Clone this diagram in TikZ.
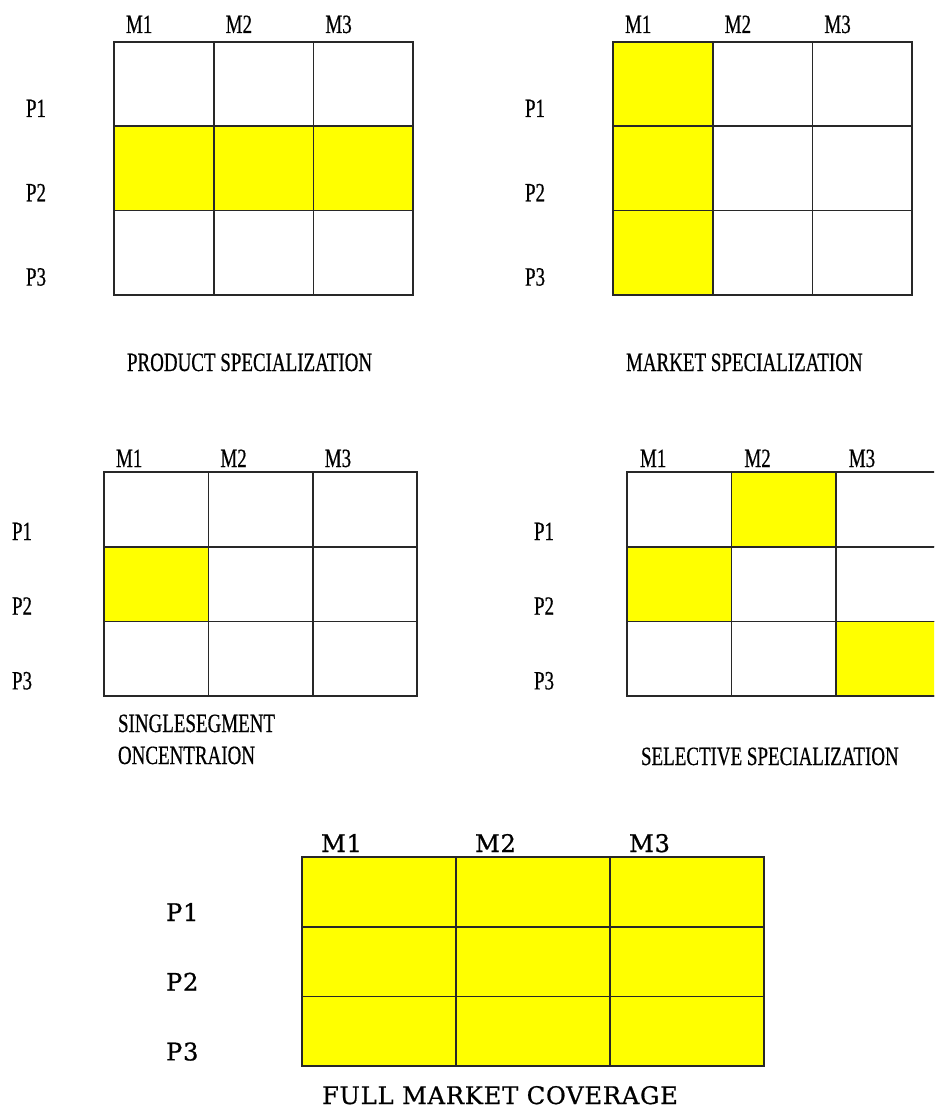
\documentclass[tikz,border=0pt]{standalone}
\usepackage{fontspec}
\setmainfont{Liberation Serif}
\newfontfamily\condserif[FakeStretch=0.72, FakeBold=0.5]{Liberation Serif}
\newfontfamily\wideserif[FakeBold=0.7, LetterSpace=3]{DejaVu Serif}
\usetikzlibrary{positioning}
\definecolor{cellfill}{RGB}{255,255,0}
\definecolor{gridline}{RGB}{40,40,40}

\begin{document}
\begin{tikzpicture}[x=0.02cm, y=-0.02cm,
  every node/.style={inner sep=0pt, outer sep=0pt},
  cell/.style={draw=gridline, line width=0.9pt},
  cellA/.style={cell, minimum width=1.994cm, minimum height=1.686cm},
  cellB/.style={cell, minimum width=2.088cm, minimum height=1.494cm},
  cellC/.style={cell, minimum width=3.08cm, minimum height=1.394cm},
  lab/.style={font=\condserif\fontsize{15}{17}\selectfont, anchor=base west},
  biglab/.style={font=\wideserif\fontsize{13.8}{15}\selectfont, anchor=base west}]
\useasboundingbox (0,0) rectangle (934,1111);
\clip (0,0) rectangle (934,1111);

% product specialization
\foreach \r in {1,2,3}
  \foreach \c in {1,2,3}
    \node[cellA] (ps-\r\c) at (114+99.7*\c-49.85, 42+84.3*\r-42.15) {};
\foreach \k in {21,22,23}
  \node[cellA, fill=cellfill] at (ps-\k) {};
\foreach \c in {1,2,3}
  \node[lab] (ps-m\c) at (126+99.7*\c-99.7, 33) {M\c};
\foreach \r in {1,2,3}
  \node[lab] (ps-p\r) at (26, 117+84.3*\r-84.3) {P\r};
\node[lab] (ps-title) at (127, 371) {PRODUCT SPECIALIZATION};

% market specialization
\foreach \r in {1,2,3}
  \foreach \c in {1,2,3}
    \node[cellA] (ms-\r\c) at (613+99.7*\c-49.85, 42+84.3*\r-42.15) {};
\foreach \k in {11,21,31}
  \node[cellA, fill=cellfill] at (ms-\k) {};
\foreach \c in {1,2,3}
  \node[lab] (ms-m\c) at (625+99.7*\c-99.7, 33) {M\c};
\foreach \r in {1,2,3}
  \node[lab] (ms-p\r) at (525, 117+84.3*\r-84.3) {P\r};
\node[lab] (ms-title) at (626, 371) {MARKET SPECIALIZATION};

% single segment concentration
\foreach \r in {1,2,3}
  \foreach \c in {1,2,3}
    \node[cellB] (sc-\r\c) at (104+104.4*\c-52.2, 472+74.7*\r-37.35) {};
\node[cellB, fill=cellfill] at (sc-21) {};
\foreach \c in {1,2,3}
  \node[lab] (sc-m\c) at (116+104.4*\c-104.4, 467) {M\c};
\foreach \r in {1,2,3}
  \node[lab] (sc-p\r) at (12, 540+74.7*\r-74.7) {P\r};
\node[lab] (sc-title) at (118, 732) {SINGLESEGMENT};
\node[lab] (sc-title2) at (118, 764) {ONCENTRAION};

% selective specialization
\foreach \r in {1,2,3}
  \foreach \c in {1,2,3}
    \node[cellB] (ss-\r\c) at (627+104.4*\c-52.2, 472+74.7*\r-37.35) {};
\foreach \k in {12,21,33}
  \node[cellB, fill=cellfill] at (ss-\k) {};
\foreach \c in {1,2,3}
  \node[lab] (ss-m\c) at (640+104.4*\c-104.4, 467) {M\c};
\foreach \r in {1,2,3}
  \node[lab] (ss-p\r) at (534, 540+74.7*\r-74.7) {P\r};
\node[lab] (ss-title) at (641, 765) {SELECTIVE SPECIALIZATION};

% full market coverage
\foreach \r in {1,2,3}
  \foreach \c in {1,2,3}
    \node[cellC, fill=cellfill] (fc-\r\c) at (302+154*\c-77, 857+69.7*\r-34.85) {};
\foreach \c in {1,2,3}
  \node[biglab] (fc-m\c) at (321+154*\c-154, 852) {M\c};
\foreach \r in {1,2,3}
  \node[biglab] (fc-p\r) at (166, 921+69.7*\r-69.7) {P\r};
\node[biglab] (fc-title) at (322, 1104) {FULL MARKET COVERAGE};
\end{tikzpicture}
\end{document}
